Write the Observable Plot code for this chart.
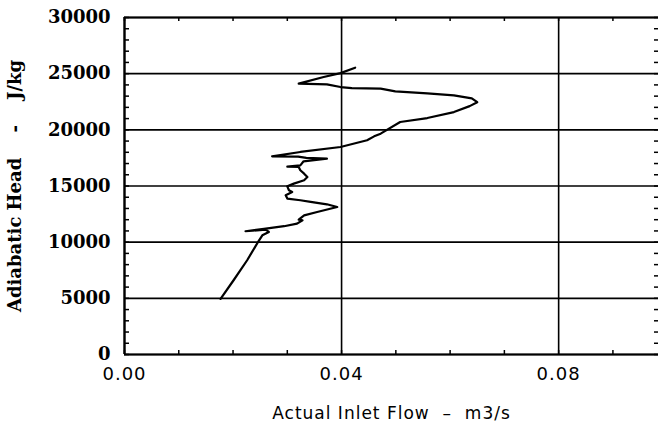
<!DOCTYPE html>
<html><head><meta charset="utf-8">
<script src="https://cdn.jsdelivr.net/npm/d3@7"></script>
<script src="https://cdn.jsdelivr.net/npm/@observablehq/plot@0.6"></script>
<style>
html,body{margin:0;padding:0;background:#fff;}
#chart svg{display:block;}
g[aria-label="y-axis tick label"] text, g[aria-label="y-axis label"] text {font-family:"DejaVu Serif";font-weight:bold;font-size:18px;}
g[aria-label="x-axis tick label"] text {font-family:"DejaVu Sans";font-size:18px;letter-spacing:1px;}
g[aria-label="x-axis label"] text {font-family:"DejaVu Sans";font-size:17px;letter-spacing:1px;}
</style></head><body><div id="chart"></div>
<script>
// Actual inlet flow (m3/s) and adiabatic head (J/kg)
const flow = [0.0177,0.0201,0.0226,0.0245,0.0254,0.0266,0.0260,0.0223,0.0257,0.0294,0.0318,0.0328,0.0321,0.0331,0.0355,0.0392,0.0373,0.0343,0.0324,0.0300,0.0297,0.0309,0.0303,0.0300,0.0312,0.0331,0.0337,0.0331,0.0324,0.0321,0.0300,0.0324,0.0330,0.0373,0.0335,0.0320,0.0272,0.0324,0.0398,0.0447,0.0460,0.0472,0.0508,0.0558,0.0607,0.0636,0.0650,0.0640,0.0607,0.0558,0.0499,0.0472,0.0419,0.0398,0.0373,0.0321,0.0367,0.0398,0.0425];
const head = [4950,6610,8390,9930,10610,10910,11120,10970,11180,11420,11650,11950,12010,12390,12690,13130,13370,13580,13730,13880,14170,14470,14620,14970,15210,15510,15800,16100,16400,16690,16720,16840,17200,17440,17500,17620,17640,18030,18470,19070,19420,19660,20700,21050,21580,22110,22460,22800,23070,23250,23420,23670,23720,23810,24050,24110,24700,25050,25530];
const xTickValues = [0, 0.04, 0.08];
const yTickValues = [0, 5000, 10000, 15000, 20000, 25000, 30000];
const xLabel = "Actual Inlet Flow \u00a0\u2013\u00a0 m3/s";
const yLabel = "Adiabatic Head \u00a0\u00a0\u00a0-\u00a0\u00a0\u00a0 J/kg";

const data = flow.map((f, i) => ({flow: f, head: head[i]}));
const xMinor = d3.range(0, 0.0985, 0.01);
const yMinor = d3.range(0, 30001, 1000);
const W = 663, H = 428, ML = 124, MR = 5, MT = 17, MB = 74;
const pw = W - ML - MR, ph = H - MT - MB;

const chart = Plot.plot({
  width: W, height: H,
  marginLeft: ML, marginRight: MR, marginTop: MT, marginBottom: MB,
  style: {background: "#fff", color: "#000"},
  x: {domain: [0, 0.0984]},
  y: {domain: [0, 30000]},
  marks: [
    Plot.ruleY(yTickValues, {stroke: "#000", strokeWidth: 1.6}),
    Plot.ruleX(xTickValues, {stroke: "#000", strokeWidth: 1.6}),
    Plot.ruleY([0, 30000], {stroke: "#000", strokeWidth: 2.2}),
    Plot.ruleX([0], {stroke: "#000", strokeWidth: 2.2}),
    Plot.tickY(yMinor, {y: d => d, insetRight: pw - 5, stroke: "#000", strokeWidth: 1.5}),
    Plot.tickY(yMinor, {y: d => d, insetLeft: pw - 4, stroke: "#000", strokeWidth: 1.5}),
    Plot.tickX(xMinor, {x: d => d, insetTop: ph - 4, stroke: "#000", strokeWidth: 1.5}),
    Plot.tickX(xMinor, {x: d => d, insetBottom: ph - 4, stroke: "#000", strokeWidth: 1.5}),
    Plot.line(data, {x: "flow", y: "head", stroke: "#000", strokeWidth: 2.2}),
    Plot.axisY({ticks: yTickValues, tickSize: 0, tickPadding: 14, tickFormat: d3.format("d"),
      label: yLabel, labelAnchor: "center", labelOffset: 116, labelArrow: "none"}),
    Plot.axisX({ticks: xTickValues, tickSize: 0, tickPadding: 13, tickFormat: d3.format(".2f"),
      label: xLabel, labelAnchor: "center", labelOffset: 64, labelArrow: "none"})
  ]
});
document.getElementById("chart").appendChild(chart);
</script>
</body></html>
